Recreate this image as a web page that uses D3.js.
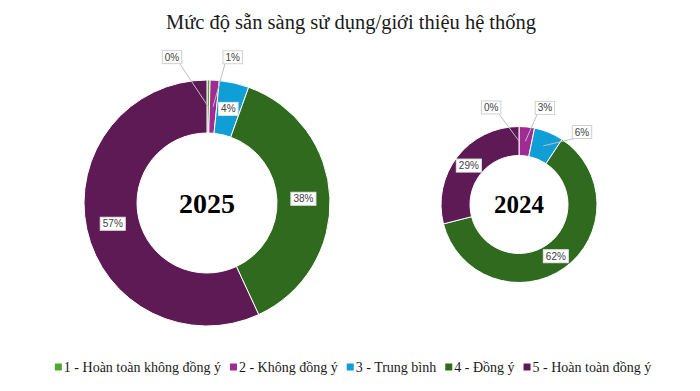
<!DOCTYPE html>
<html><head><meta charset="utf-8">
<script src="https://cdn.jsdelivr.net/npm/d3@7"></script>
<style>body{margin:0;background:#fff}svg{display:block}</style>
</head><body>
<svg id="c" width="700" height="391"></svg>
<script>
const categories = ["1 - Hoàn toàn không đồng ý","2 - Không đồng ý","3 - Trung bình","4 - Đồng ý","5 - Hoàn toàn đồng ý"];
const colors = ["#4EA72E","#A02B93","#0F9ED5","#2F6A1F","#5E1A55"];
const values2025 = [0.4, 1.2, 3.9, 37.6, 56.9];
const labels2025 = ["0%","1%","4%","38%","57%"];
const values2024 = [0, 3.2, 6.1, 61.7, 29.0];
const labels2024 = ["0%","3%","6%","62%","29%"];
const title = "Mức độ sẵn sàng sử dụng/giới thiệu hệ thống";

// layout: outside labels get [angleDeg, radius]
const charts = [
  {year:"2025", values:values2025, labels:labels2025, cx:207, cy:203, ro:123, ri:70, fs:28,
   outside:{0:[-13.5,150],1:[10,148]}},
  {year:"2024", values:values2024, labels:labels2024, cx:519, cy:204.5, ro:78, ri:49, fs:25,
   outside:{0:[-16,101],1:[15,100],2:[41,96]}}
];

const svg = d3.select("#c");
svg.append("text").attr("x",351).attr("y",29).attr("text-anchor","middle")
  .attr("font-family","Liberation Serif, Times New Roman, serif").attr("font-size",20.5)
  .attr("fill","#1a1a1a").text(title);

charts.forEach(ch=>{
  const g = svg.append("g").attr("transform",`translate(${ch.cx},${ch.cy})`);
  const pie = d3.pie().sort(null).value(d=>d)(ch.values);
  const arc = d3.arc().innerRadius(ch.ri).outerRadius(ch.ro);
  g.selectAll("path.s").data(pie).join("path").attr("class","s")
    .attr("d",arc).attr("fill",(d,i)=>colors[i]).attr("stroke","#fff").attr("stroke-width",1);
  g.append("text").attr("text-anchor","middle").attr("dy","0.35em")
    .attr("font-family","Liberation Serif, Times New Roman, serif").attr("font-weight","bold")
    .attr("font-size",ch.fs).attr("fill","#000").text(ch.year);
  const rm = (ch.ri+ch.ro)/2;
  const midArc = d3.arc().innerRadius(rm).outerRadius(rm);
  pie.forEach((d,i)=>{
    const c = midArc.centroid(d);
    let pos = c, out = ch.outside[i];
    if(out){
      const a = out[0]*Math.PI/180;
      pos = [out[1]*Math.sin(a), -out[1]*Math.cos(a)];
    }
    const lg = g.append("g");
    const t = lg.append("text").attr("x",pos[0]).attr("y",pos[1]).attr("dy","0.35em")
      .attr("text-anchor","middle").attr("font-family","Liberation Sans, Arial, sans-serif")
      .attr("font-size",10).attr("fill","#404040").text(ch.labels[i]);
    const w = t.node().getComputedTextLength()+5, h=13;
    if(out){
      // leader line from box bottom edge to slice centroid
      const sx = Math.max(pos[0]-w/2+2, Math.min(pos[0]+w/2-2, c[0]));
      const sy = pos[1]+h/2;
      lg.insert("line","text").attr("x1",sx).attr("y1",sy).attr("x2",c[0]).attr("y2",c[1])
        .attr("stroke","#bfbfbf").attr("stroke-width",1);
    }
    lg.insert("rect","text").attr("x",pos[0]-w/2).attr("y",pos[1]-h/2).attr("width",w).attr("height",h)
      .attr("fill","#fff").attr("stroke",out?"#d0d0d0":"#e6e6e6").attr("stroke-width",1);
  });
});

// legend
const lg = svg.append("g");
let x = 0;
categories.forEach((c,i)=>{
  const it = lg.append("g").attr("transform",`translate(${x},0)`);
  it.append("rect").attr("x",0).attr("y",-3.5).attr("width",7).attr("height",7).attr("fill",colors[i]);
  const t = it.append("text").attr("x",9).attr("dy","0.35em")
    .attr("font-family","Liberation Serif, Times New Roman, serif").attr("font-size",14)
    .attr("fill","#1a1a1a").text(c);
  x += 9 + t.node().getComputedTextLength() + 9;
});
const total = x - 9;
lg.attr("transform",`translate(${353-total/2},367)`);
</script>
</body></html>
